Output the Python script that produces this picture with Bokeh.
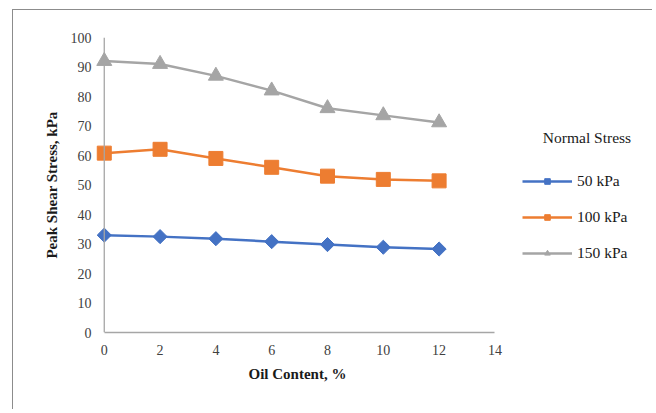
import math
from bokeh.plotting import figure
from bokeh.models import Range1d, FixedTicker, Legend, LegendItem, Label, Span, Title
from bokeh.embed import file_html
from bokeh.resources import INLINE

oil_content = [0, 2, 4, 6, 8, 10, 12]
stress_50 = [33.0, 32.5, 31.8, 30.8, 29.8, 28.9, 28.3]
stress_100 = [60.8, 62.1, 59.0, 56.0, 53.0, 51.9, 51.4]
stress_150 = [92.0, 91.0, 87.0, 82.0, 76.0, 73.6, 71.2]
series_names = ["50 kPa", "100 kPa", "150 kPa"]
x_ticks = [0, 2, 4, 6, 8, 10, 12, 14]
y_ticks = [0, 10, 20, 30, 40, 50, 60, 70, 80, 90, 100]

FONT = "Liberation Serif"
AXIS_COLOR = "#a6a6a6"
W, H = 640, 400
p = figure(width=W, height=H, output_backend="svg", toolbar_location=None,
           x_range=Range1d(-0.35, 19.54), y_range=Range1d(0, 100),
           min_border_left=81, min_border_right=4, min_border_top=27,
           min_border_bottom=78)
p.margin = (9, 0, 0, 12)
p.styles = {"border-top": "1px solid #8c8c8c", "border-left": "1px solid #8c8c8c"}
p.outline_line_color = None
p.background_fill_color = None
p.xgrid.grid_line_color = None
p.ygrid.grid_line_color = None

# vertical axis line at x = 0
p.add_layout(Span(location=0, dimension="height", line_color=AXIS_COLOR, line_width=1.3))

colors = ["#4472C4", "#ED7D31", "#A5A5A5"]
r1l = p.line(oil_content, stress_50, line_color=colors[0], line_width=2.5)
r1m = p.scatter(oil_content, stress_50, marker="square", angle=math.pi / 4, size=10,
                fill_color=colors[0], line_color=colors[0])
r2l = p.line(oil_content, stress_100, line_color=colors[1], line_width=2.5)
r2m = p.scatter(oil_content, stress_100, marker="square", size=14,
                fill_color=colors[1], line_color=colors[1])
r3l = p.line(oil_content, stress_150, line_color=colors[2], line_width=2.5)
r3m = p.scatter(oil_content, stress_150, marker="triangle", size=15,
                fill_color=colors[2], line_color=colors[2])

for ax in (p.xaxis[0], p.yaxis[0]):
    ax.axis_line_color = AXIS_COLOR
    ax.axis_line_width = 1.3
    ax.major_tick_line_color = None
    ax.minor_tick_line_color = None
    ax.major_label_text_font = FONT
    ax.major_label_text_font_size = "14px"
    ax.major_label_text_color = "#404040"
    ax.axis_label_text_font = FONT
    ax.axis_label_text_font_size = "15px"
    ax.axis_label_text_font_style = "bold"
    ax.axis_label_text_color = "#1a1a1a"

p.xaxis.ticker = FixedTicker(ticks=x_ticks)
p.xaxis.bounds = (0, 14)
p.xaxis.major_label_standoff = 6

p.yaxis.ticker = FixedTicker(ticks=y_ticks)
p.yaxis.axis_line_color = None
p.yaxis.axis_label = "Peak Shear Stress, kPa"
p.yaxis.major_label_standoff = -3
p.yaxis.axis_label_standoff = 8

xlabel = Title(text="Oil Content, %", align="left", offset=154, text_font=FONT,
               text_font_size="15px", text_font_style="bold", text_color="#1a1a1a",
               standoff=12)
p.add_layout(xlabel, "below")

legend = Legend(items=[
    LegendItem(label=series_names[0], renderers=[r1l, r1m]),
    LegendItem(label=series_names[1], renderers=[r2l, r2m]),
    LegendItem(label=series_names[2], renderers=[r3l, r3m]),
], location=(428, 70))
legend.glyph_width = 50
legend.glyph_height = 14
legend.label_height = 18
legend.spacing = 18
legend.padding = 0
legend.margin = 0
legend.label_standoff = 5
legend.border_line_color = None
legend.background_fill_alpha = 0
legend.label_text_font = FONT
legend.label_text_font_size = "15.5px"
legend.label_text_color = "#1a1a1a"
p.add_layout(legend)

title = Label(x=17.3, y=66.1, text="Normal Stress", text_font=FONT,
              text_font_size="15.5px", text_align="center", text_baseline="middle",
              text_color="#1a1a1a")
p.add_layout(title)

open("out.html", "w").write(file_html(p, INLINE))
